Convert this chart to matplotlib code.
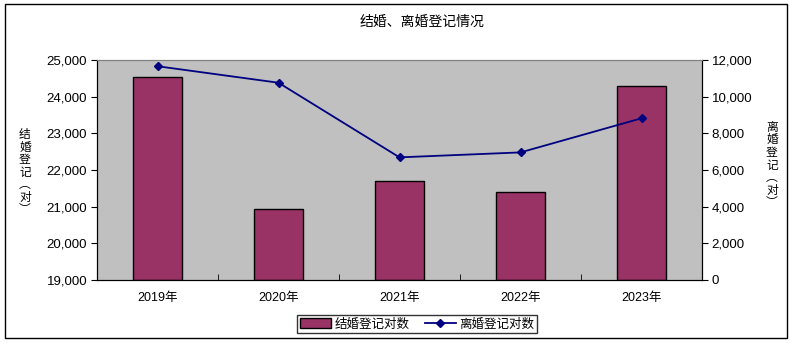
import matplotlib.pyplot as plt
from matplotlib.patches import Rectangle
from matplotlib.ticker import FuncFormatter

plt.rcParams['font.family'] = ['Liberation Sans', 'Noto Sans CJK SC', 'DejaVu Sans']

years = ['2019年', '2020年', '2021年', '2022年', '2023年']
marriages = [24530, 20950, 21700, 21410, 24280]
divorces = [11660, 10760, 6690, 6960, 8820]

fig = plt.figure(figsize=(7.9, 3.43), dpi=100)
fig.patch.set_facecolor('white')

# outer chart frame
fig.patches.append(Rectangle((5 / 790, 5 / 343), 782 / 790, 334 / 343, transform=fig.transFigure,
                             fill=False, edgecolor='black', linewidth=1))

ax = fig.add_axes([97 / 790, 63 / 343, 605 / 790, 220 / 343])
ax.set_facecolor('#C0C0C0')
x = list(range(len(years)))
ax.bar(x, [m - 19000 for m in marriages], bottom=19000, width=0.4,
       color='#993366', edgecolor='black', linewidth=1, zorder=2)
ax.set_xlim(-0.5, len(years) - 0.5)
ax.set_ylim(19000, 25000)
ax.set_yticks(range(19000, 25001, 1000))
fmt = FuncFormatter(lambda v, p: f'{int(v):,}')
ax.yaxis.set_major_formatter(fmt)
ax.set_xticks(x)
ax.set_xticklabels(years)
ax.set_xticks([i + 0.5 for i in range(len(years) - 1)], minor=True)
ax.tick_params(axis='x', which='major', length=0, pad=9, labelsize=9)
ax.tick_params(axis='x', which='minor', direction='in', length=4, color='black')
ax.tick_params(axis='y', direction='out', length=4, labelsize=9.5, pad=3)
for s in ['left', 'bottom', 'right']:
    ax.spines[s].set_color('black')
ax.spines['top'].set_color('#808080')

ax2 = ax.twinx()
ax2.plot(x, divorces, color='#000080', marker='D', markersize=4.5, linewidth=1.3, zorder=3)
ax2.set_ylim(0, 12000)
ax2.set_yticks(range(0, 12001, 2000))
ax2.yaxis.set_major_formatter(fmt)
ax2.tick_params(axis='y', direction='out', length=4, labelsize=9.5, pad=3)
ax2.spines['top'].set_color('#808080')

cjk = ['Noto Sans CJK SC', 'DejaVu Sans']
fig.text(422 / 790, 1 - 22 / 343, '结婚、离婚登记情况', ha='center', va='center',
         fontsize=10, family=cjk)
fig.text(25 / 790, 1 - 172 / 343, '结\n婚\n登\n记\n︵\n对\n︶', ha='center', va='center',
         fontsize=8.5, linespacing=0.95, family=cjk)
fig.text(772 / 790, 1 - 165 / 343, '离\n婚\n登\n记\n︵\n对\n︶', ha='center', va='center',
         fontsize=8.5, linespacing=0.95, family=cjk)

h1 = Rectangle((0, 0), 1, 1, facecolor='#993366', edgecolor='black')
h2, = ax2.plot([], [], color='#000080', marker='D', markersize=4.5, linewidth=1.3)
fig.legend([h1, h2], ['结婚登记对数', '离婚登记对数'], loc='center', ncol=2,
           bbox_to_anchor=(417 / 790, 1 - 324 / 343), prop={'family': cjk, 'size': 9},
           frameon=True, fancybox=False, edgecolor='black', borderpad=0.2, handlelength=2.5,
           handleheight=0.8, columnspacing=1.2, handletextpad=0.3, borderaxespad=0)

fig.savefig('out.png', dpi=100)
